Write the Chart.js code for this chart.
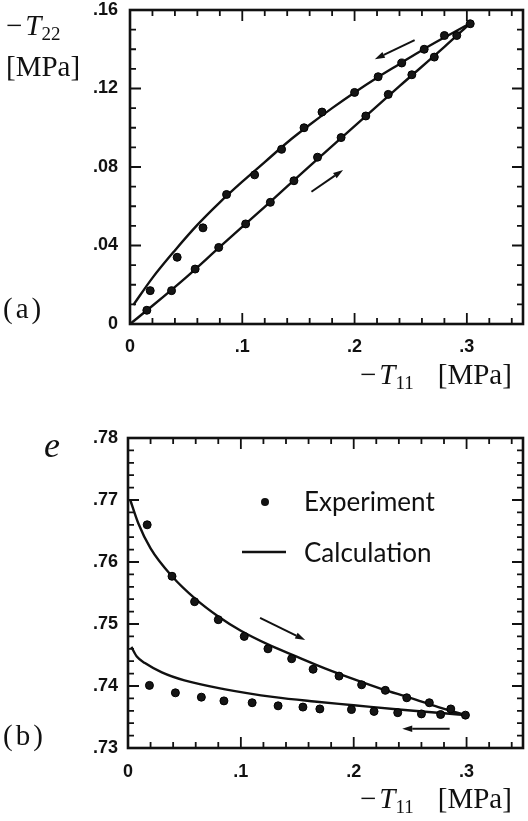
<!DOCTYPE html>
<html>
<head>
<meta charset="utf-8">
<script src="https://cdn.jsdelivr.net/npm/chart.js@4.4.1/dist/chart.umd.min.js"></script>
<style>
  html, body { margin: 0; padding: 0; background: #fff; }
  body { width: 528px; height: 821px; position: relative; overflow: hidden; }
  .panel { position: absolute; left: 0; width: 528px; }
  #panelA { top: 0; height: 400px; }
  #panelB { top: 410px; height: 411px; }
</style>
</head>
<body>
<div class="panel" id="panelA"><canvas id="stressChart" width="528" height="400"></canvas></div>
<div class="panel" id="panelB"><canvas id="voidChart" width="528" height="411"></canvas></div>
<script>
// (a) stress path, -T11 against -T22 [MPa]
const expLoadT11 = [0.015, 0.037, 0.058, 0.079, 0.103, 0.125, 0.146, 0.167, 0.188, 0.210, 0.230, 0.251, 0.271, 0.291, 0.303];
const expLoadT22 = [0.007, 0.017, 0.028, 0.039, 0.051, 0.062, 0.073, 0.085, 0.095, 0.106, 0.117, 0.127, 0.136, 0.147, 0.153];
const expUnloadT11 = [0.018, 0.042, 0.065, 0.086, 0.111, 0.135, 0.155, 0.171, 0.200, 0.221, 0.242, 0.262, 0.280];
const expUnloadT22 = [0.017, 0.034, 0.049, 0.066, 0.076, 0.089, 0.100, 0.108, 0.118, 0.126, 0.133, 0.140, 0.147];
const calcLoadT11 = [0, 0.02, 0.05, 0.08, 0.12, 0.16, 0.20, 0.24, 0.28, 0.303];
const calcLoadT22 = [0, 0.0093, 0.0238, 0.0393, 0.0597, 0.0805, 0.1008, 0.1212, 0.1412, 0.1532];
const calcUnloadT11 = [0.003, 0.02, 0.04, 0.06, 0.08, 0.10, 0.12, 0.14, 0.16, 0.18, 0.20, 0.22, 0.24, 0.26, 0.28, 0.303];
const calcUnloadT22 = [0.0097, 0.0235, 0.0375, 0.0505, 0.062, 0.0725, 0.0825, 0.0925, 0.1015, 0.110, 0.118, 0.1255, 0.1325, 0.1395, 0.146, 0.1532];

// (b) void ratio e against -T11 [MPa]
const expLoadET11 = [0.017, 0.039, 0.059, 0.080, 0.103, 0.124, 0.145, 0.164, 0.187, 0.207, 0.228, 0.247, 0.267, 0.286, 0.299];
const expLoadE = [0.7660, 0.7577, 0.7536, 0.7507, 0.7480, 0.7460, 0.7444, 0.7427, 0.7416, 0.7402, 0.7393, 0.7381, 0.7373, 0.7363, 0.7353];
const expUnloadET11 = [0.019, 0.042, 0.065, 0.085, 0.110, 0.133, 0.155, 0.170, 0.198, 0.218, 0.239, 0.260, 0.277];
const expUnloadE = [0.7401, 0.7389, 0.7382, 0.7376, 0.7373, 0.7368, 0.7366, 0.7363, 0.7362, 0.7359, 0.7357, 0.7355, 0.7354];
const calcLoadET11 = [0.002, 0.009, 0.02, 0.039, 0.06, 0.08, 0.10, 0.124, 0.15, 0.175, 0.20, 0.225, 0.25, 0.275, 0.299];
const calcLoadE = [0.7700, 0.7663, 0.7622, 0.7577, 0.7540, 0.7512, 0.7489, 0.7467, 0.7447, 0.7428, 0.7411, 0.7395, 0.7381, 0.7366, 0.7353];
const calcUnloadET11 = [0.003, 0.008, 0.015, 0.03, 0.05, 0.085, 0.13, 0.165, 0.20, 0.24, 0.28, 0.299];
const calcUnloadE = [0.7463, 0.7447, 0.7437, 0.7422, 0.7409, 0.7395, 0.7382, 0.7375, 0.7369, 0.7362, 0.7356, 0.7353];

// axis ticks
const t11Ticks = [0, 0.1, 0.2, 0.3];
const t11TickLabels = ['0', '.1', '.2', '.3'];
const t22Ticks = [0, 0.04, 0.08, 0.12, 0.16];
const t22TickLabels = ['0', '.04', '.08', '.12', '.16'];
const eTicks = [0.73, 0.74, 0.75, 0.76, 0.77, 0.78];
const eTickLabels = ['.73', '.74', '.75', '.76', '.77', '.78'];

// direction arrows [x0, y0, x1, y1], head at the second point
const stressArrows = [[0.2535, 0.1447, 0.218, 0.1349], [0.1616, 0.0674, 0.1898, 0.0785]];
const voidArrows = [[0.117, 0.7510, 0.157, 0.7474], [0.285, 0.7331, 0.243, 0.7331]];

const SERIF = "'Liberation Serif', 'Times New Roman', serif";
const SANS = "'Liberation Sans', Arial, sans-serif";
const INK = '#111';

function points(xs, ys) {
    return xs.map((x, i) => ({ x: x, y: ys[i] }));
}

function tickValues(min, max, step) {
    let out = [];
    let n = Math.floor((max - min) / step + 1e-6);
    for (let i = 0; i <= n; i++) {
        out.push(Math.round((min + i * step) * 1e6) / 1e6);
    }
    return out;
}

function linearAxis(min, max, step, majors, labels, pad, fit) {
    return {
        type: 'linear',
        min: min,
        max: max,
        grid: { display: false, drawTicks: false },
        border: { display: false },
        afterBuildTicks: scale => {
            scale.ticks = tickValues(min, max, step).map(v => ({ value: v }));
        },
        afterFit: scale => {
            fit(scale);
            // labels at the ends may overhang, the frame stays put
            scale.paddingTop = 0;
            scale.paddingBottom = 0;
        },
        ticks: {
            autoSkip: false,
            maxRotation: 0,
            padding: pad,
            color: INK,
            font: { family: SANS, size: 18, weight: 'bold' },
            callback: value => {
                let i = majors.findIndex(m => Math.abs(m - value) < 1e-6);
                return i < 0 ? '' : labels[i];
            }
        }
    };
}

function pointSet(data) {
    return {
        data: data,
        showLine: false,
        pointRadius: 4,
        pointStyle: 'circle',
        backgroundColor: '#151515',
        borderColor: '#000',
        borderWidth: 1,
        order: 0
    };
}

function curveSet(data) {
    return {
        data: data,
        showLine: true,
        pointRadius: 0,
        borderColor: INK,
        borderWidth: 2.4,
        cubicInterpolationMode: 'monotone',
        fill: false,
        order: 1
    };
}

// boxed frame with inward ticks on all four sides
const framePlugin = {
    id: 'frame',
    afterDatasetsDraw(chart) {
        const { ctx, chartArea: a, scales } = chart;
        ctx.save();
        ctx.strokeStyle = INK;
        ctx.lineWidth = 1.8;
        ctx.beginPath();
        scales.x.ticks.forEach(t => {
            let px = scales.x.getPixelForValue(t.value);
            let len = t.label ? 11 : 6;
            ctx.moveTo(px, a.bottom); ctx.lineTo(px, a.bottom - len);
            ctx.moveTo(px, a.top); ctx.lineTo(px, a.top + len);
        });
        scales.y.ticks.forEach(t => {
            let py = scales.y.getPixelForValue(t.value);
            let len = t.label ? 11 : 6;
            ctx.moveTo(a.left, py); ctx.lineTo(a.left + len, py);
            ctx.moveTo(a.right, py); ctx.lineTo(a.right - len, py);
        });
        ctx.stroke();
        ctx.lineWidth = 2.6;
        ctx.strokeRect(a.left, a.top, a.right - a.left, a.bottom - a.top);
        ctx.restore();
    }
};

const arrowPlugin = {
    id: 'arrows',
    afterDatasetsDraw(chart, args, opts) {
        const { ctx, scales: { x, y } } = chart;
        ctx.save();
        ctx.strokeStyle = INK;
        ctx.fillStyle = INK;
        ctx.lineWidth = 2;
        (opts.list || []).forEach(r => {
            let x0 = x.getPixelForValue(r[0]), y0 = y.getPixelForValue(r[1]);
            let x1 = x.getPixelForValue(r[2]), y1 = y.getPixelForValue(r[3]);
            let ang = Math.atan2(y1 - y0, x1 - x0);
            let hl = 10, hw = 3.2;
            let bx = x1 - hl * Math.cos(ang), by = y1 - hl * Math.sin(ang);
            ctx.beginPath();
            ctx.moveTo(x0, y0);
            ctx.lineTo(bx, by);
            ctx.stroke();
            ctx.beginPath();
            ctx.moveTo(x1, y1);
            ctx.lineTo(bx + hw * Math.sin(ang), by - hw * Math.cos(ang));
            ctx.lineTo(bx - hw * Math.sin(ang), by + hw * Math.cos(ang));
            ctx.closePath();
            ctx.fill();
        });
        ctx.restore();
    }
};

// axis titles, panel letters, legend: runs of [text, font, dx, dy]
const textPlugin = {
    id: 'texts',
    afterDraw(chart, args, opts) {
        const ctx = chart.ctx;
        ctx.save();
        ctx.fillStyle = INK;
        ctx.textBaseline = 'alphabetic';
        (opts.items || []).forEach(item => {
            let cx = item.x;
            item.runs.forEach(r => {
                ctx.font = r[1];
                cx += r[2] || 0;
                ctx.fillText(r[0], cx, item.y + (r[3] || 0));
                cx += ctx.measureText(r[0]).width;
            });
        });
        (opts.dots || []).forEach(d => {
            ctx.beginPath();
            ctx.arc(d[0], d[1], 4, 0, Math.PI * 2);
            ctx.fill();
        });
        ctx.strokeStyle = INK;
        ctx.lineWidth = 2.4;
        (opts.lines || []).forEach(l => {
            ctx.beginPath();
            ctx.moveTo(l[0], l[1]);
            ctx.lineTo(l[2], l[3]);
            ctx.stroke();
        });
        ctx.restore();
    }
};

function t11Title(x, y) {
    return {
        x: x, y: y, runs: [
            ['\u2212', '29px ' + SERIF],
            ['T', 'italic 29px ' + SERIF, 3],
            ['11', '19px ' + SERIF, 0, 5],
            ['[MPa]', '29px ' + SERIF, 24]
        ]
    };
}

function baseOptions(xAxis, yAxis, padding, plugins) {
    return {
        responsive: false,
        animation: false,
        layout: { padding: padding },
        scales: { x: xAxis, y: yAxis },
        plugins: Object.assign({
            legend: { display: false },
            tooltip: { enabled: false }
        }, plugins)
    };
}

new Chart(document.getElementById('stressChart').getContext('2d'), {
    type: 'scatter',
    data: {
        datasets: [
            pointSet(points(expLoadT11, expLoadT22)),
            pointSet(points(expUnloadT11, expUnloadT22)),
            curveSet(points(calcLoadT11, calcLoadT22)),
            curveSet(points(calcUnloadT11, calcUnloadT22))
        ]
    },
    options: baseOptions(
        linearAxis(0, 0.35, 0.02, t11Ticks, t11TickLabels, 12, s => { s.height = 76; }),
        linearAxis(0, 0.16, 0.01, t22Ticks, t22TickLabels, 12, s => { s.width = 130; }),
        { top: 10, right: 3, left: 0, bottom: 0 },
        {
            arrows: { list: stressArrows },
            texts: {
                items: [
                    { x: 6, y: 35, runs: [['\u2212', '29px ' + SERIF], ['T', 'italic 29px ' + SERIF, 3], ['22', '19px ' + SERIF, 0, 5]] },
                    { x: 6, y: 76, runs: [['[MPa]', '29px ' + SERIF]] },
                    { x: 3, y: 318, runs: [['(', '29px ' + SERIF], ['a', '29px ' + SERIF, 3], [')', '29px ' + SERIF, 3]] },
                    t11Title(360, 384)
                ]
            }
        }
    ),
    plugins: [framePlugin, arrowPlugin, textPlugin]
});

new Chart(document.getElementById('voidChart').getContext('2d'), {
    type: 'scatter',
    data: {
        datasets: [
            pointSet(points(expLoadET11, expLoadE)),
            pointSet(points(expUnloadET11, expUnloadE)),
            curveSet(points(calcLoadET11, calcLoadE)),
            curveSet(points(calcUnloadET11, calcUnloadE))
        ]
    },
    options: baseOptions(
        linearAxis(0, 0.35, 0.02, t11Ticks, t11TickLabels, 13, s => { s.height = 73; }),
        linearAxis(0.73, 0.78, 0.002, eTicks, eTickLabels, 10, s => { s.width = 128; }),
        { top: 28, right: 4, left: 0, bottom: 0 },
        {
            arrows: { list: voidArrows },
            texts: {
                items: [
                    { x: 44, y: 47, runs: [['e', 'italic 36px ' + SERIF]] },
                    { x: 304, y: 101, runs: [['Experiment', '26px Lato, sans-serif']] },
                    { x: 304, y: 152, runs: [['Calculation', '26px Lato, sans-serif']] },
                    { x: 3, y: 335, runs: [['(', '29px ' + SERIF], ['b', '29px ' + SERIF, 3], [')', '29px ' + SERIF, 3]] },
                    t11Title(360, 398)
                ],
                dots: [[265, 92]],
                lines: [[242, 142, 286, 142]]
            }
        }
    ),
    plugins: [framePlugin, arrowPlugin, textPlugin]
});
</script>
</body>
</html>
